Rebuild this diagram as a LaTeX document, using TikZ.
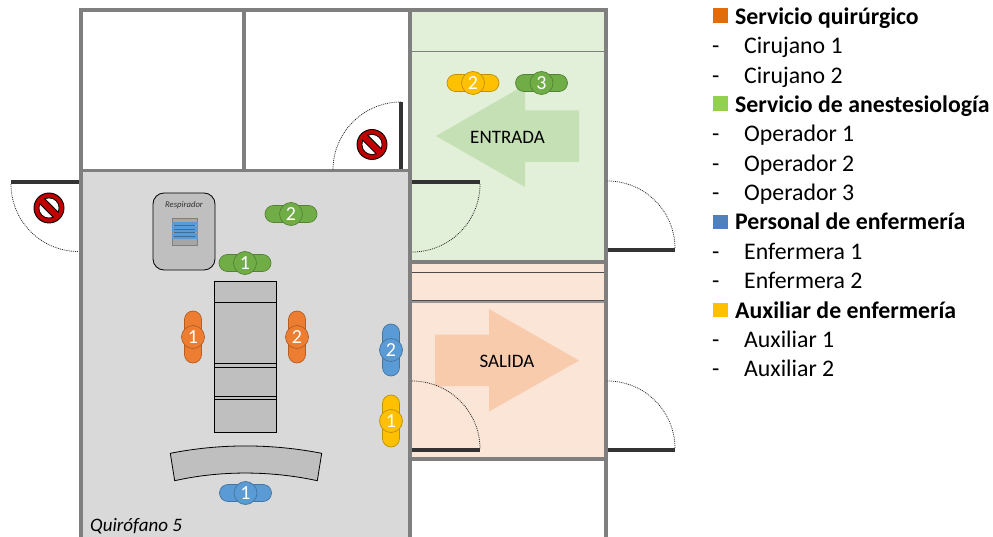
\documentclass[tikz,border=0pt]{standalone}
\usepackage{fontspec}
\setmainfont{Carlito}
\usetikzlibrary{positioning}
\definecolor{wallgray}{HTML}{7F7F7F}
\definecolor{roomgray}{HTML}{D9D9D9}
\definecolor{devicegray}{HTML}{BFBFBF}
\definecolor{entrygreen}{HTML}{E2F0D9}
\definecolor{entryarrow}{HTML}{C5E0B4}
\definecolor{exitpeach}{HTML}{FBE5D6}
\definecolor{exitarrow}{HTML}{F8CBAD}
\definecolor{surgorange}{HTML}{ED7D31}
\definecolor{anesgreen}{HTML}{70AD47}
\definecolor{nurseblue}{HTML}{5B9BD5}
\definecolor{auxyellow}{HTML}{FFC000}
\definecolor{signred}{HTML}{C00000}
\definecolor{keyorange}{HTML}{E36C0A}
\definecolor{keygreen}{HTML}{92D050}
\definecolor{keyblue}{HTML}{4F81BD}
\tikzset{
  wall/.style={fill=wallgray,draw=none},
  doorleaf/.style={fill=black!80,draw=none},
  doorswing/.style={dash pattern=on .9pt off 1pt,line width=.8pt,black!85},
  devicebox/.style={fill=devicegray,draw=black,line width=.8pt},
  pillh/.style={draw=#1!75!black,fill=#1,line width=.7pt,rounded corners=8.5pt,minimum width=52pt,minimum height=17pt,inner sep=0pt},
  pillv/.style={draw=#1!75!black,fill=#1,line width=.7pt,rounded corners=8.5pt,minimum width=17pt,minimum height=52pt,inner sep=0pt},
  badge/.style={circle,draw=#1!75!black,fill=#1,line width=.7pt,minimum size=23pt,inner sep=0pt,text=white,font=\fontsize{20}{20}\selectfont},
  legendhead/.style={anchor=base west,inner sep=0pt,font=\fontsize{23.8}{24}\selectfont\bfseries},
  legenditem/.style={anchor=base west,inner sep=0pt,font=\fontsize{23.8}{24}\selectfont},
  legendkey/.style={minimum size=14.7pt,inner sep=0pt,fill=#1}
}
\begin{document}
\begin{tikzpicture}[x=1pt,y=-1pt]
   \useasboundingbox (0,0) rectangle (993,537);
   % walls and rooms
   \fill[wall] (78.5,8) rectangle (607.5,172.5);
   \fill[wall] (78.5,172.5) rectangle (412,537);
   \fill[wall] (408,172.5) rectangle (607.5,537);
   \fill[white] (82.5,12) rectangle (242,169);
   \fill[white] (246,12) rectangle (408,169);
   \fill[roomgray] (82.5,172.5) rectangle (408,537);
   \fill[entrygreen] (412,12) rectangle (603.5,260);
   \fill[exitpeach] (412,264) rectangle (603.5,457);
   \fill[white] (412,461) rectangle (604,537);
   \draw[wallgray,line width=1pt] (412,52) -- (604,52);
   \draw[black!70,line width=.8pt] (412,272.3) -- (604,272.3);
   \draw[black!70,line width=.8pt] (412,300.5) -- (604,300.5);
   \fill[wallgray!80] (412,301) rectangle (604,303.5);
   % arrows
   \fill[entryarrow] (436,136) -- (525,85) -- (525,110.5) -- (579,110.5) -- (579,162) -- (525,162) -- (525,187) -- cycle;
   \fill[exitarrow] (579,360.5) -- (489,309) -- (489,334.5) -- (435,334.5) -- (435,386) -- (489,386) -- (489,411.5) -- cycle;
   \node[font=\fontsize{19}{19}\selectfont] (entrada) at (507.5,137) {ENTRADA};
   \node[font=\fontsize{19}{19}\selectfont] (salida) at (507,361) {SALIDA};
   % doors
   \foreach \x/\y/\w/\h in {11/180.5/68/3.5,399/102/4/67,412/180.5/68/3.5,607.5/248/67.5/4,412/448/68/4,607.5/448/67.5/4}
      \fill[doorleaf] (\x,\y) rectangle ++(\w,\h);
   \draw[doorswing] (11,184) arc[start angle=180,end angle=90,radius=67.5];
   \draw[doorswing] (401,102) arc[start angle=270,end angle=180,radius=68];
   \draw[doorswing] (480,184) arc[start angle=0,end angle=90,radius=68];
   \draw[doorswing] (607.5,181) arc[start angle=270,end angle=360,radius=67.5];
   \draw[doorswing] (412,381) arc[start angle=270,end angle=360,radius=68];
   \draw[doorswing] (607.5,381) arc[start angle=270,end angle=360,radius=67.5];
   % forbidden signs
   \foreach \n/\x/\y in {signa/49/208,signb/372/144.5} {
      \node[circle,draw=black,line width=.9pt,fill=signred,minimum size=30pt,inner sep=0pt] (\n) at (\x,\y) {};
      \fill[black] (\n) circle (10.5);
      \fill[white] (\n) circle (9.6);
      \fill[black,shift={(\n)},rotate=-45] (-10,-4) rectangle (10,4);
      \fill[signred,shift={(\n)},rotate=-45] (-11,-3) rectangle (11,3);
   }
   % respirator
   \draw[devicebox,rounded corners=11pt] (153,193) rectangle (215,270);
   \node[font=\fontsize{8.7}{9}\selectfont\itshape,text=black!80] (respirador) at (184,205) {Respirador};
   \fill[gray!70,draw=gray] (172,218.5) rectangle (197,245);
   \foreach \y in {224,227.5,...,240}
      \draw[nurseblue,line width=3pt] (171.5,\y) -- (197.5,\y);
   \foreach \y in {225.75,229.25,...,239}
      \draw[nurseblue!70!black,line width=.5pt] (174,\y) -- (195,\y);
   % table
   \draw[devicebox] (214.5,281.7) rectangle (276.3,432.3);
   \foreach \y in {302.3,363.7,367.3,396,399.3}
      \draw[black,line width=.8pt] (214.5,\y) -- (276.3,\y);
   \draw[devicebox] (170.3,453.3) .. controls (220,443.5) and (271,443.5) .. (321.7,453.3)
      -- (317.3,480.7) .. controls (270,470.5) and (220,470.5) .. (174.7,480.7) -- cycle;
   % staff
   \foreach \n/\t/\c/\x/\y in {anesa/1/anesgreen/245/263,anesb/2/anesgreen/291/214,anesc/3/anesgreen/541.5/83,auxb/2/auxyellow/473/83,nursea/1/nurseblue/245.5/493} {
      \node[pillh=\c] (bar\n) at (\x,\y) {};
      \node[badge=\c] (\n) at (\x,\y) {\t};
   }
   \foreach \n/\t/\c/\x/\y in {surga/1/surgorange/193/337,surgb/2/surgorange/297/337,nurseb/2/nurseblue/391/350,auxa/1/auxyellow/391/421} {
      \node[pillv=\c] (bar\n) at (\x,\y) {};
      \node[badge=\c] (\n) at (\x,\y) {\t};
   }
   \node[anchor=west,inner sep=0pt,font=\fontsize{19}{19}\selectfont\itshape] (quirofano) at (90,526) {Quirófano 5};
   % legend
   \foreach \n/\t/\y in {heada/Servicio quirúrgico/24.5,headb/Servicio de anestesiología/112.5,headc/Personal de enfermería/230,headd/Auxiliar de enfermería/318}
      \node[legendhead] (\n) at (735,\y) {\t};
   \foreach \n/\t/\y in {itema/Cirujano 1/54,itemb/Cirujano 2/83.5,itemc/Operador 1/142,itemd/Operador 2/171.5,iteme/Operador 3/201,itemf/Enfermera 1/259.5,itemg/Enfermera 2/289,itemh/Auxiliar 1/347.5,itemi/Auxiliar 2/376.5} {
      \node[legenditem] (\n) at (744,\y) {\t};
      \node[legenditem] (dash\n) at (712,\y) {-};
   }
   \node[legendkey=keyorange] (keya) at (720.5,15.3) {};
   \node[legendkey=keygreen] (keyb) at (720.5,103.3) {};
   \node[legendkey=keyblue] (keyc) at (720.5,222) {};
   \node[legendkey=auxyellow] (keyd) at (720.5,310) {};
\end{tikzpicture}
\end{document}
